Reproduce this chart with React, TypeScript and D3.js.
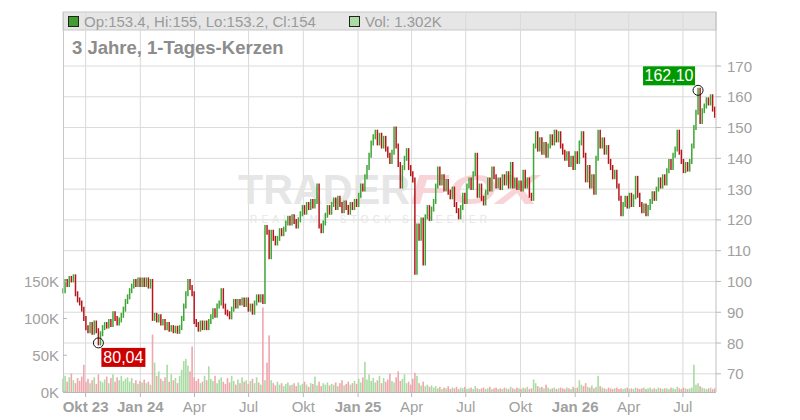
import React from 'react';
import * as d3 from 'd3';

// one candle every 3.5 calendar days, close values
const START = '2023-08-24';
const END = '2026-08-24';
const STEP_DAYS = 3.5;

const CLOSE: number[] = [
  97, 100, 99, 101, 100.5, 101.5, 96, 94, 93, 91,
  88, 85, 84, 86, 83.5, 86.5, 84, 80.04, 83, 85,
  86, 85.5, 87, 86, 89.5, 88, 86.5, 87.5, 89, 91,
  93.5, 95, 97, 98.5, 100, 99, 100.5, 99, 100.5, 99,
  100.5, 98.5, 100, 88, 89, 87.5, 88.5, 86.5, 87, 85,
  86, 84.5, 85, 84, 84.8, 83.8, 85, 88, 92, 96,
  100, 98, 96, 87, 86, 84.5, 86.5, 85, 86.5, 85,
  87, 88.5, 90.5, 89, 92, 93, 97, 92, 90, 89.5,
  88.5, 91, 93.5, 92, 93.5, 93, 94, 92.5, 94, 91,
  92, 90, 93, 95, 94, 95, 93.5, 117.5, 116, 108,
  116, 114, 112.5, 114, 116.5, 115.5, 117, 119, 120.5, 119,
  121, 119.5, 118, 120, 122, 124, 122.5, 125, 124, 126,
  124.5, 126, 131, 118, 116.5, 119, 121.5, 124, 122.5, 125,
  126.5, 124, 127, 125, 123, 125.5, 124, 122.5, 125, 124,
  126, 125, 128, 131, 130, 134, 137, 141, 145, 147,
  148.5, 145, 147.5, 144, 146.5, 143, 141, 139, 142, 149.5,
  144, 138, 131, 137, 140, 142.5, 137, 135, 133, 103,
  118, 114, 120, 106, 121, 124, 120.5, 123.5, 126, 131,
  136.5, 132, 134, 130, 132.5, 129, 127.5, 130, 125, 123,
  121, 124, 128, 126, 131, 133, 130.5, 135, 141, 128,
  131, 127, 125.5, 129, 133, 130, 136.5, 134, 131, 133,
  130.5, 134, 132, 135, 131, 138, 131, 133, 130.5, 132,
  130, 135.5, 131, 133, 128, 127, 144, 148, 143, 146,
  142, 144.5, 141, 144, 147, 145, 148.5, 146, 148, 144,
  142, 140, 141.5, 138, 140, 137, 141.5, 139, 145, 148,
  141, 133, 137, 131, 134, 129, 140, 148.5, 144, 146,
  142, 143.5, 139, 137, 134, 135.5, 131, 127, 122, 125,
  127, 124.5, 128, 125, 127.5, 133.5, 128, 125, 123, 124.5,
  122, 124, 126, 128.5, 127, 130, 133, 131, 134, 132,
  136, 139, 137, 141, 143, 148.5, 142, 139, 136, 138,
  136.5, 139, 144, 150, 155, 162.1, 152, 155.5, 157, 159,
  158, 160, 156, 154,
];

// volume in thousands, same candles
const VOLUME: number[] = [
  18, 22, 14, 20, 25, 16, 12, 19, 15, 21,
  37, 14, 18, 12, 16, 20, 11, 24, 15, 13,
  17, 21, 12, 19, 24, 14, 20, 16, 22, 15,
  18, 20, 14, 19, 12, 16, 11, 15, 13, 17,
  12, 14, 10, 78, 40, 22, 28, 18, 15, 20,
  37, 14, 24, 16, 19, 12, 22, 30, 42, 45,
  36, 28, 62, 20, 15, 18, 12, 14, 22, 16,
  35, 18, 15, 22, 12, 17, 20, 14, 11, 19,
  13, 22, 15, 10, 17, 12, 20, 14, 16, 11,
  15, 18, 12, 20, 13, 10, 115, 16, 40, 77,
  16, 12, 9, 14, 10, 12, 8, 11, 13, 9,
  10, 12, 8, 13, 9, 11, 14, 10, 7, 12,
  11, 21, 9, 14, 8, 12, 10, 13, 9, 11,
  10, 13, 8, 12, 16, 9, 11, 14, 10, 12,
  15, 11, 18, 13, 20, 41, 17, 24, 15, 19,
  13, 16, 22, 12, 19, 14, 17, 25, 15, 13,
  20, 28, 15, 18, 24, 12, 14, 10, 18, 26,
  22, 12, 9, 14, 8, 10, 7, 9, 6, 8,
  5, 7, 4, 6, 5, 8, 4, 6, 5, 7,
  4, 6, 5, 7, 4, 5, 6, 4, 8, 5,
  4, 5, 6, 4, 5, 7, 4, 5, 6, 4,
  5, 4, 6, 5, 4, 7, 5, 4, 6, 5,
  4, 6, 5, 7, 4, 5, 17, 12, 8, 6,
  7, 5, 10, 6, 4, 5, 6, 4, 5, 6,
  5, 4, 6, 5, 4, 7, 5, 6, 16, 10,
  8, 12, 7, 6, 9, 5, 7, 22, 8, 6,
  5, 4, 6, 5, 4, 5, 6, 4, 5, 4,
  5, 6, 4, 5, 4, 6, 5, 4, 5, 6,
  4, 5, 6, 4, 5, 4, 6, 5, 4, 5,
  5, 4, 6, 5, 4, 7, 5, 4, 6, 5,
  4, 5, 6, 37, 10, 12, 8, 6, 5, 4,
  5, 6, 4, 5,
];

const X_TICKS = [
  '2023-10-01', '2024-01-01', '2024-04-01', '2024-07-01', '2024-10-01', '2025-01-01',
  '2025-04-01', '2025-07-01', '2025-10-01', '2026-01-01', '2026-04-01', '2026-07-01',
];
const X_LABELS = ['Okt 23', 'Jan 24', 'Apr', 'Jul', 'Okt', 'Jan 25', 'Apr', 'Jul', 'Okt', 'Jan 26', 'Apr', 'Jul'];
const PRICE_TICKS = [70, 80, 90, 100, 110, 120, 130, 140, 150, 160, 170];
const VOLUME_TICKS = [0, 50, 100, 150];

const HEADER_OHLC = 'Op:153.4, Hi:155, Lo:153.2, Cl:154';
const HEADER_VOL = 'Vol: 1.302K';
const TITLE = '3 Jahre, 1-Tages-Kerzen';

const FONT = '"Liberation Sans", Arial, sans-serif';
const GREEN = '#3fa535';
const RED = '#b5161b';
const VOL_GREEN = '#a9dba2';
const VOL_RED = '#f0a6ad';

const LEFT = 63;
const RIGHT = 716;
const TOP = 12;
const BOTTOM = 392;

const fmt = (v: number) => v.toFixed(2).replace('.', ',');

export default function App() {
  const x = d3.scaleUtc().domain([new Date(START), new Date(END)]).range([LEFT, 715]);
  const y = d3.scaleLinear().domain([70, 170]).range([373.8, 66]);
  const yv = d3.scaleLinear().domain([0, 150]).range([BOTTOM, 281.7]);

  const t0 = new Date(START).getTime();
  const candles = CLOSE.map((c, i) => {
    const open = i === 0 ? c : CLOSE[i - 1];
    return {
      date: new Date(t0 + i * STEP_DAYS * 864e5),
      open,
      close: c,
      vol: VOLUME[i],
      up: c >= open,
    };
  });

  const minI = d3.minIndex(CLOSE);
  const maxI = d3.maxIndex(CLOSE);
  const minPt = { x: x(candles[minI].date), y: y(CLOSE[minI]) };
  const maxPt = { x: x(candles[maxI].date), y: y(CLOSE[maxI]) };

  return (
    <svg
      width={800}
      height={420}
      style={{ position: 'fixed', left: 0, top: 0, background: '#fff' }}
      fontFamily={FONT}
    >
      {/* header band */}
      <rect x={LEFT} y={TOP} width={RIGHT - LEFT} height={18} fill="#e6e6e6" stroke="#c8c8c8" />

      {/* grid */}
      {X_TICKS.map((t) => (
        <line key={t} x1={x(new Date(t))} x2={x(new Date(t))} y1={TOP} y2={BOTTOM} stroke="#dadada" />
      ))}
      {PRICE_TICKS.map((p) => (
        <line key={p} x1={LEFT} x2={RIGHT} y1={y(p)} y2={y(p)} stroke="#dadada" />
      ))}

      {/* header text */}
      <rect x={68.5} y={16.5} width={10} height={10} fill="#3f9e2f" stroke="#222" />
      <text x={84} y={27} fontSize={15} fill="#9a9a9a">{HEADER_OHLC}</text>
      <rect x={349.5} y={16.5} width={10} height={10} fill={VOL_GREEN} stroke="#222" />
      <text x={365} y={27} fontSize={15} fill="#9a9a9a">{HEADER_VOL}</text>

      <text x={72} y={54} fontSize={18.5} fontWeight="bold" fill="#8c8c8c">{TITLE}</text>

      {/* watermark */}
      <g opacity={0.9}>
        <text x={238} y={204} fontSize={42} fontWeight="bold" fill="#e4e4e4" textLength={172} lengthAdjust="spacingAndGlyphs">
          TRADER
        </text>
        <text x={410} y={204} fontSize={42} fontWeight="bold" fontStyle="italic" fill="#f8d0d4" textLength={128} lengthAdjust="spacingAndGlyphs">
          FOX
        </text>
        <text x={250} y={223} fontSize={10} fill="#e4e4e4" letterSpacing={4.2}>
          REALTIME STOCK SCREENER
        </text>
      </g>

      {/* volume */}
      {candles.map((d, i) => (
        <rect
          key={'v' + i}
          x={x(d.date) - 0.8}
          y={yv(d.vol)}
          width={1.6}
          height={BOTTOM - yv(d.vol)}
          fill={d.up ? VOL_GREEN : VOL_RED}
        />
      ))}

      {/* candles */}
      {candles.map((d, i) => {
        const cx = x(d.date);
        const y1 = y(Math.max(d.open, d.close)) - 2.5;
        const y2 = y(Math.min(d.open, d.close)) + 2.5;
        return (
          <line key={'c' + i} x1={cx} x2={cx} y1={y1} y2={y2} stroke={d.up ? GREEN : RED} strokeWidth={1.5} />
        );
      })}

      {/* axes */}
      <line x1={LEFT + 0.5} x2={LEFT + 0.5} y1={TOP} y2={BOTTOM} stroke="#c8c8c8" />
      <line x1={RIGHT} x2={RIGHT} y1={TOP} y2={BOTTOM} stroke="#c0c0c0" />
      <line x1={LEFT} x2={RIGHT} y1={BOTTOM + 0.5} y2={BOTTOM + 0.5} stroke="#b8b8b8" />
      {X_TICKS.map((t, i) => {
        const tx = x(new Date(t));
        const bold = X_LABELS[i].includes(' ');
        return (
          <g key={'xt' + t}>
            <line x1={tx} x2={tx} y1={BOTTOM} y2={BOTTOM + 5} stroke="#b8b8b8" />
            <text x={tx} y={412} textAnchor="middle" fontSize={15} fill="#a0a0a0" fontWeight={bold ? 'bold' : 'normal'}>
              {X_LABELS[i]}
            </text>
          </g>
        );
      })}
      {PRICE_TICKS.map((p) => (
        <g key={'pt' + p}>
          <line x1={RIGHT} x2={RIGHT + 5} y1={y(p)} y2={y(p)} stroke="#b8b8b8" />
          <text x={727} y={y(p) + 5.5} fontSize={15} fill="#a0a0a0">{p}</text>
        </g>
      ))}
      {VOLUME_TICKS.map((v) => (
        <g key={'vt' + v}>
          <line x1={LEFT} x2={LEFT + 4} y1={yv(v)} y2={yv(v)} stroke="#b8b8b8" />
          <text x={59} y={yv(v) + 5.5} textAnchor="end" fontSize={15} fill="#a0a0a0">{v}K</text>
        </g>
      ))}

      {/* min / max markers */}
      <circle cx={minPt.x} cy={minPt.y} r={5} fill="none" stroke="#111" />
      <rect x={minPt.x + 3} y={minPt.y + 5} width={44} height={19} fill="#cc0000" />
      <text x={minPt.x + 25} y={minPt.y + 20} textAnchor="middle" fontSize={16} fill="#fff">{fmt(CLOSE[minI])}</text>

      <circle cx={maxPt.x} cy={maxPt.y} r={5} fill="none" stroke="#111" />
      <rect x={maxPt.x - 55} y={maxPt.y - 24} width={52} height={19} fill="#009a00" />
      <text x={maxPt.x - 29} y={maxPt.y - 9} textAnchor="middle" fontSize={16} fill="#fff">{fmt(CLOSE[maxI])}</text>
    </svg>
  );
}
